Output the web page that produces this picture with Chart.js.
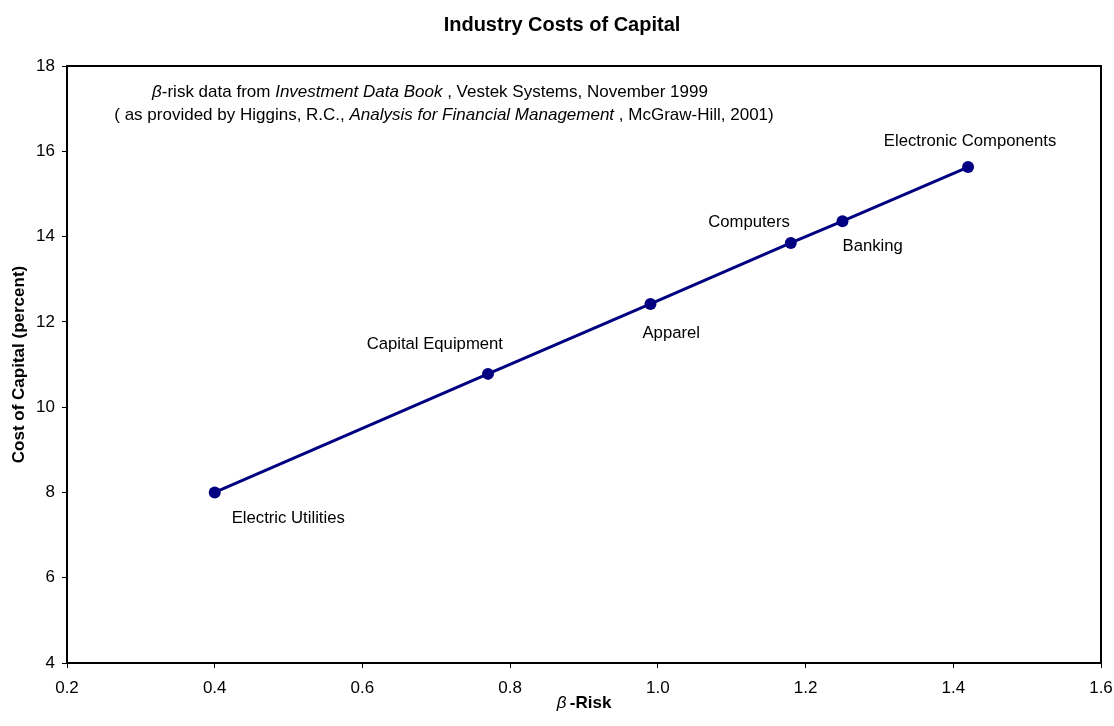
<!DOCTYPE html>
<html>
<head>
<meta charset="utf-8">
<script src="https://cdn.jsdelivr.net/npm/chart.js@4/dist/chart.umd.min.js"></script>
<style>
  body { margin: 0; background: #fff; }
  #wrap { width: 1114px; height: 726px; position: relative; }
</style>
</head>
<body>
<div id="wrap"><canvas id="chart"></canvas></div>
<script>
const industries = ["Electric Utilities", "Capital Equipment", "Apparel", "Computers", "Banking", "Electronic Components"];
const betaRisk = [0.40, 0.77, 0.99, 1.18, 1.25, 1.42];
const costOfCapital = [8.0, 10.78, 12.42, 13.85, 14.36, 15.63];

const xMin = 0.2, xMax = 1.6, xStep = 0.2;
const yMin = 4, yMax = 18, yStep = 2;

const chartTitle = "Industry Costs of Capital";
const yTitle = "Cost of Capital (percent)";
const sourceLine1 = [
  { t: "\u03B2", s: "italic" },
  { t: "-risk data from ", s: "normal" },
  { t: "Investment Data Book", s: "italic" },
  { t: " , Vestek Systems, November 1999", s: "normal" }
];
const sourceLine2 = [
  { t: "( as provided by Higgins, R.C., ", s: "normal" },
  { t: "Analysis for Financial Management", s: "italic" },
  { t: " , McGraw-Hill, 2001)", s: "normal" }
];
const xTitle = [
  { t: "\u03B2", s: "italic" },
  { t: "\u2009-Risk", s: "bold" }
];

// where each point label sits relative to its marker (style only)
const labelPlacement = [
  { align: "left", dx: 17, dy: 26 },
  { align: "right", dx: 15, dy: -29 },
  { align: "left", dx: -8, dy: 29 },
  { align: "right", dx: -1, dy: -21 },
  { align: "left", dx: 0, dy: 25 },
  { align: "center", dx: 2, dy: -26 }
];

const FAMILY = '"Liberation Sans", Arial, sans-serif';
const NAVY = "#000080";

function drawRuns(ctx, runs, cx, cy, size) {
  let total = 0;
  for (const r of runs) {
    ctx.font = r.s + " " + size + "px " + FAMILY;
    r.w = ctx.measureText(r.t).width;
    total += r.w;
  }
  let x = cx - total / 2;
  ctx.textAlign = "left";
  ctx.textBaseline = "middle";
  for (const r of runs) {
    ctx.font = r.s + " " + size + "px " + FAMILY;
    ctx.fillText(r.t, x, cy);
    x += r.w;
  }
}

const decorations = {
  id: "decorations",
  afterDraw(chart) {
    const ctx = chart.ctx;
    const area = chart.chartArea;
    const xs = chart.scales.x;
    const ys = chart.scales.y;
    ctx.save();

    // plot frame
    ctx.strokeStyle = "#000";
    ctx.lineWidth = 2;
    ctx.strokeRect(area.left, area.top, area.right - area.left, area.bottom - area.top);

    ctx.fillStyle = "#000";
    // chart title
    ctx.font = "bold 20px " + FAMILY;
    ctx.textAlign = "center";
    ctx.textBaseline = "middle";
    ctx.fillText(chartTitle, 562, 25);

    // y-axis title
    ctx.save();
    ctx.translate(19, (area.top + area.bottom) / 2);
    ctx.rotate(-Math.PI / 2);
    ctx.font = "bold 17px " + FAMILY;
    ctx.fillText(yTitle, 0, 0);
    ctx.restore();

    // x-axis title
    drawRuns(ctx, xTitle, 584, 703, 17);

    // source note
    drawRuns(ctx, sourceLine1, 430, 92, 17);
    drawRuns(ctx, sourceLine2, 444, 115, 17);

    // point labels
    ctx.font = "16.7px " + FAMILY;
    ctx.textBaseline = "middle";
    industries.forEach((name, i) => {
      const p = labelPlacement[i];
      ctx.textAlign = p.align;
      ctx.fillText(name, xs.getPixelForValue(betaRisk[i]) + p.dx, ys.getPixelForValue(costOfCapital[i]) + p.dy);
    });
    ctx.restore();
  }
};

new Chart(document.getElementById("chart"), {
  type: "scatter",
  data: {
    datasets: [{
      data: betaRisk.map((b, i) => ({ x: b, y: costOfCapital[i] })),
      showLine: true,
      borderColor: NAVY,
      borderWidth: 3,
      backgroundColor: NAVY,
      pointBackgroundColor: NAVY,
      pointBorderColor: NAVY,
      pointRadius: 6,
      pointBorderWidth: 0
    }]
  },
  options: {
    responsive: true,
    maintainAspectRatio: false,
    animation: false,
    events: [],
    layout: { padding: { top: 66, right: 13, left: 0, bottom: 0 } },
    plugins: {
      legend: { display: false },
      tooltip: { enabled: false }
    },
    scales: {
      x: {
        type: "linear",
        min: xMin,
        max: xMax,
        afterFit(scale) {
          scale.height = 63;
          scale.paddingLeft = 0;
          scale.paddingRight = 0;
        },
        ticks: {
          stepSize: xStep,
          color: "#000",
          font: { family: FAMILY, size: 17 },
          padding: 10,
          maxRotation: 0,
          callback: (v) => v.toFixed(1)
        },
        grid: { display: true, drawOnChartArea: false, drawTicks: true, tickLength: 5, color: "#000", lineWidth: 1 },
        border: { display: false }
      },
      y: {
        type: "linear",
        min: yMin,
        max: yMax,
        afterFit(scale) {
          scale.width = 67;
          scale.paddingTop = 0;
          scale.paddingBottom = 0;
        },
        ticks: {
          stepSize: yStep,
          color: "#000",
          font: { family: FAMILY, size: 17 },
          padding: 7
        },
        grid: { display: true, drawOnChartArea: false, drawTicks: true, tickLength: 5, color: "#000", lineWidth: 1 },
        border: { display: false }
      }
    }
  },
  plugins: [decorations]
});
</script>
</body>
</html>
